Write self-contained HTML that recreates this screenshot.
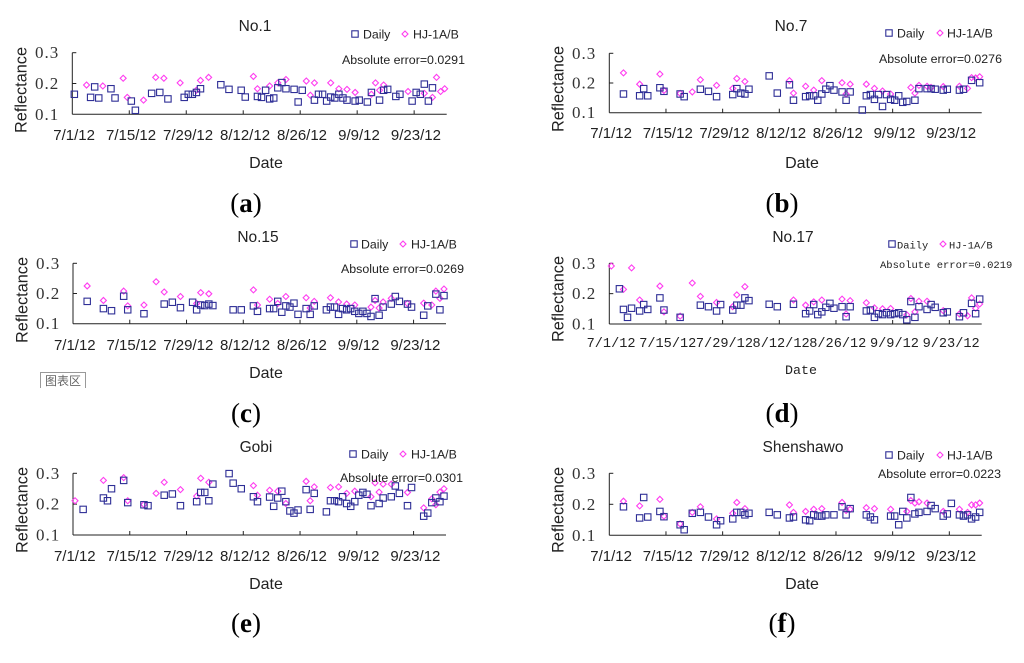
<!DOCTYPE html>
<html lang="en">
<head>
<meta charset="utf-8">
<title>Reflectance comparison charts</title>
<style>
html,body{margin:0;padding:0;background:#fff;}
#figure{display:block;width:1024px;height:663px;background:#fff;filter:blur(0.35px);}
text{font-family:"Liberation Sans",sans-serif;fill:#222;}
.num{font-family:"Liberation Serif",serif;font-size:17px;letter-spacing:1px;fill:#333;}
.mono{font-family:"Liberation Mono",monospace;}
.cap{font-family:"Liberation Serif",serif;font-size:27px;fill:#000;}
</style>
</head>
<body>
<svg id="figure" xmlns="http://www.w3.org/2000/svg" width="1024" height="663" viewBox="0 0 1024 663">
  <g>
    <path d="M40.5 388V372.5H85.5V388" fill="#fff" stroke="#999" stroke-width="1"/>
    <text x="63" y="385" text-anchor="middle" font-size="12" style="font-family:'Liberation Sans','Noto Sans CJK SC',sans-serif;fill:#666">图表区</text>
  </g>
</svg>
<script>
const xTickDays = [0, 14, 28, 42, 56, 70, 84];
const xTickLabels = ["7/1/12", "7/15/12", "7/29/12", "8/12/12", "8/26/12", "9/9/12", "9/23/12"];
const yTickValues = [0.1, 0.2, 0.3];
const yTickLabels = ["0.1", "0.2", "0.3"];
const totalDays = 92;
const yMin = 0.1;
const yMax = 0.3;

const no1DailyDays = [0,4,5,6,9,10,14,15,19,21,23,27,28,29,30,31,36,38,41,42,45,46,47,48,49,50,51,52,54,55,56,59,60,61,62,63,64,65,66,67,69,70,72,73,75,76,77,79,80,83,84,85,86,87,88];
const no1DailyValues = [.165,.155,.189,.153,.183,.153,.143,.113,.168,.171,.150,.155,.165,.165,.171,.183,.196,.181,.178,.156,.158,.155,.178,.150,.153,.186,.203,.183,.181,.140,.178,.146,.165,.165,.143,.156,.153,.165,.153,.146,.143,.146,.140,.171,.146,.178,.181,.158,.165,.143,.171,.165,.198,.143,.186];
const no1SatDays = [3,7,12,13,17,20,22,26,30,31,33,44,45,48,50,52,57,58,59,63,65,67,69,73,74,75,76,82,86,88,89,90,91];
const no1SatValues = [.195,.192,.217,.155,.146,.220,.217,.202,.178,.210,.220,.223,.183,.192,.202,.213,.208,.162,.202,.202,.183,.181,.171,.165,.202,.178,.195,.174,.168,.155,.220,.174,.183];

const no7DailyDays = [3,7,8,9,12,13,17,18,22,24,26,30,31,32,33,34,39,41,44,45,48,49,50,51,52,53,54,55,57,58,59,62,63,64,65,66,67,68,69,70,71,72,73,75,76,78,79,80,82,83,86,87,89,91];
const no7DailyValues = [.163,.157,.181,.157,.184,.172,.163,.154,.179,.172,.154,.161,.181,.166,.163,.179,.224,.166,.194,.142,.154,.157,.157,.142,.163,.179,.191,.176,.170,.142,.170,.109,.157,.161,.145,.161,.121,.161,.145,.142,.157,.135,.138,.142,.181,.181,.181,.179,.176,.179,.176,.179,.209,.201];
const no7SatDays = [3,7,12,13,17,20,22,26,30,31,33,44,45,48,50,52,57,58,59,63,65,67,69,74,75,76,78,79,82,86,88,89,90,91];
const no7SatValues = [.234,.196,.230,.175,.165,.170,.211,.192,.182,.215,.205,.208,.166,.189,.176,.208,.201,.163,.196,.196,.182,.173,.163,.185,.166,.192,.189,.185,.188,.189,.182,.218,.217,.221];

const no15DailyDays = [3,7,9,12,13,17,22,24,26,29,30,31,32,33,34,39,41,44,45,48,49,50,51,52,53,54,55,57,58,59,62,63,64,65,66,67,68,69,70,71,72,73,74,75,76,78,79,80,82,83,86,87,89,90,91];
const no15DailyValues = [.174,.150,.143,.191,.146,.133,.165,.171,.153,.171,.146,.162,.160,.165,.160,.146,.146,.159,.141,.150,.150,.174,.138,.159,.155,.168,.131,.150,.131,.159,.146,.155,.155,.131,.150,.146,.150,.141,.134,.141,.134,.124,.183,.128,.155,.165,.190,.174,.165,.155,.128,.159,.198,.146,.193];
const no15SatDays = [3,7,12,13,17,20,22,26,30,31,33,44,45,48,50,52,57,58,59,63,65,67,69,73,74,75,76,78,82,86,88,89,90,91];
const no15SatValues = [.225,.177,.208,.159,.162,.239,.205,.190,.167,.203,.199,.212,.162,.181,.167,.190,.186,.152,.174,.186,.172,.165,.162,.155,.177,.152,.172,.184,.167,.168,.162,.208,.184,.215];

const no17DailyDays = [2,3,4,5,7,8,9,12,13,17,22,24,26,27,30,31,32,33,34,39,41,45,48,49,50,51,52,53,54,55,57,58,59,63,64,65,66,67,68,69,70,71,72,73,74,75,76,78,79,80,82,83,86,87,89,90,91];
const no17DailyValues = [.216,.148,.122,.152,.143,.164,.148,.186,.146,.122,.162,.157,.143,.164,.146,.162,.162,.186,.177,.165,.157,.165,.134,.143,.164,.131,.140,.155,.168,.152,.157,.124,.157,.143,.146,.122,.134,.131,.137,.131,.134,.137,.131,.114,.174,.122,.157,.148,.164,.155,.137,.140,.124,.137,.168,.134,.182];
const no17SatDays = [0,3,5,7,12,13,17,20,22,26,30,31,33,45,48,50,52,57,58,59,63,65,67,69,73,74,75,76,78,82,86,88,89,90,91];
const no17SatValues = [.291,.214,.285,.179,.225,.140,.126,.235,.191,.171,.157,.196,.223,.179,.162,.173,.179,.182,.133,.177,.170,.153,.150,.151,.130,.184,.140,.175,.175,.144,.133,.127,.186,.152,.166];

const gobiDailyDays = [2,7,8,9,12,13,17,18,22,24,26,30,31,32,33,34,38,39,41,44,45,48,49,50,51,52,53,54,55,57,58,59,62,63,64,65,66,67,68,69,70,71,72,73,75,76,78,79,80,82,83,86,87,88,89,90,91];
const gobiDailyValues = [.183,.220,.211,.250,.277,.205,.198,.195,.229,.233,.195,.208,.238,.238,.211,.265,.299,.268,.250,.224,.208,.223,.193,.220,.242,.208,.178,.171,.181,.247,.183,.235,.175,.211,.211,.208,.224,.202,.193,.208,.229,.238,.232,.195,.202,.220,.224,.259,.235,.195,.254,.161,.171,.205,.220,.208,.226];
const gobiSatDays = [0,7,12,13,17,20,22,26,30,31,33,44,45,48,50,52,57,58,59,63,65,67,69,73,74,75,76,78,82,86,88,89,90,91];
const gobiSatValues = [.211,.277,.286,.211,.199,.235,.271,.247,.226,.284,.271,.260,.229,.245,.242,.202,.274,.211,.256,.254,.256,.235,.242,.224,.269,.239,.265,.265,.238,.188,.217,.198,.239,.250];

const shenDailyDays = [3,7,8,9,12,13,17,18,20,22,24,26,27,30,31,32,33,34,39,41,44,45,48,49,50,51,52,53,55,57,58,59,63,64,65,69,70,71,72,73,74,75,76,78,79,80,82,83,84,86,87,88,89,90,91];
const shenDailyValues = [.192,.156,.222,.159,.177,.160,.134,.118,.171,.174,.159,.134,.147,.153,.174,.174,.166,.171,.174,.166,.156,.159,.150,.147,.166,.162,.162,.166,.166,.192,.166,.186,.166,.159,.150,.162,.162,.134,.177,.156,.222,.169,.174,.177,.196,.186,.162,.169,.203,.166,.162,.166,.153,.159,.174];
const shenSatDays = [3,7,12,13,17,20,22,26,30,31,33,44,45,48,50,52,57,58,59,63,65,69,73,74,75,76,78,82,86,88,89,90,91];
const shenSatValues = [.210,.195,.216,.162,.137,.174,.192,.153,.171,.206,.186,.198,.174,.177,.184,.186,.206,.180,.184,.189,.186,.184,.177,.212,.204,.208,.204,.177,.184,.174,.198,.198,.204];

const panels = [
  {key:"no-1",title:"No.1",err:"Absolute error=0.0291",letter:"a",daily:[no1DailyDays,no1DailyValues],sat:[no1SatDays,no1SatValues],
   box:[72.3,446.7,52.7,114.3],titleAt:[255,31],legend:[355,34,363,405,413],errAt:[342,64],tickBase:140,dateAt:[266,168],reflAt:[21,90],numX:35,capAt:[246,212]},
  {key:"no-7",title:"No.7",err:"Absolute error=0.0276",letter:"b",daily:[no7DailyDays,no7DailyValues],sat:[no7SatDays,no7SatValues],
   box:[609.3,981.7,53.3,112.7],titleAt:[791,31],legend:[889,33,897,940,947],errAt:[879,63],tickBase:138,dateAt:[802,168],reflAt:[558,89],numX:572,capAt:[782,212]},
  {key:"no-15",title:"No.15",err:"Absolute error=0.0269",letter:"c",daily:[no15DailyDays,no15DailyValues],sat:[no15SatDays,no15SatValues],
   box:[73,446,263.3,323.7],titleAt:[258,242],legend:[354,244,361,403,411],errAt:[341,273],tickBase:350,dateAt:[266,378],reflAt:[22,300],numX:36,capAt:[246,422]},
  {key:"no-17",title:"No.17",err:"Absolute error=0.0219",letter:"d",daily:[no17DailyDays,no17DailyValues],sat:[no17SatDays,no17SatValues],
   box:[609.3,981.7,263.3,324],titleAt:[793,242],legend:[892,244,897,943,949],errAt:[880,268],tickBase:347,dateAt:[801,374],reflAt:[558,299],numX:572,capAt:[782,422],mono:true},
  {key:"gobi",title:"Gobi",err:"Absolute error=0.0301",letter:"e",daily:[gobiDailyDays,gobiDailyValues],sat:[gobiSatDays,gobiSatValues],
   box:[73,446,473.3,535],titleAt:[256,452],legend:[353,454,361,403,411],errAt:[340,482],tickBase:561,dateAt:[266,589],reflAt:[22,510],numX:36,capAt:[246,632]},
  {key:"shenshawo",title:"Shenshawo",err:"Absolute error=0.0223",letter:"f",daily:[shenDailyDays,shenDailyValues],sat:[shenSatDays,shenSatValues],
   box:[609.3,981.7,473.3,535.3],titleAt:[803,452],legend:[889,455,897,940,947],errAt:[878,478],tickBase:561,dateAt:[802,589],reflAt:[558,510],numX:572,capAt:[782,632]}
];

const NS = "http://www.w3.org/2000/svg";
const svg = document.getElementById("figure");
const DAILY_COLOR = "#2e2e96";
const SAT_COLOR = "#ff3cf0";

function make(tag, attrs, parent) {
  const el = document.createElementNS(NS, tag);
  for (const k in attrs) el.setAttribute(k, attrs[k]);
  parent.appendChild(el);
  return el;
}
function label(parent, str, x, y, size, anchor, cls) {
  const el = make("text", {x: x, y: y, "font-size": size, "text-anchor": anchor || "start"}, parent);
  if (cls) el.setAttribute("class", cls);
  el.textContent = str;
  return el;
}
function squareMark(parent, cx, cy) {
  return make("rect", {x: cx - 3.2, y: cy - 3.2, width: 6.4, height: 6.4, fill: "none", stroke: DAILY_COLOR, "stroke-width": 1.1}, parent);
}
function diamondMark(parent, cx, cy) {
  const r = 3;
  return make("polygon", {points: [cx, cy - r, cx + r, cy, cx, cy + r, cx - r, cy].join(","), fill: "none", stroke: SAT_COLOR, "stroke-width": 1.1}, parent);
}

panels.forEach(function (p) {
  const x0 = p.box[0], x1 = p.box[1], yTop = p.box[2], yBot = p.box[3];
  const edgeX = function (d) { return x0 + d * (x1 - x0) / totalDays; };
  const centerX = function (d) { return edgeX(d + 0.5); };
  const valY = function (v) { return yBot - (v - yMin) / (yMax - yMin) * (yBot - yTop); };

  const g = make("g", {}, svg);
  
  

  const title = label(g, p.title, p.titleAt[0], p.titleAt[1], 15.5, "middle");
  
  

  const yAxis = make("line", {x1: x0, x2: x0, y1: yTop, y2: yBot, stroke: "#222", "stroke-width": 1}, g);
  
  
  const xAxis = make("line", {x1: x0, x2: x1, y1: yBot, y2: yBot, stroke: "#222", "stroke-width": 1}, g);
  
  

  yTickValues.forEach(function (v, i) {
    const y = valY(v);
    if (i > 0) {
      const tick = make("line", {x1: x0, x2: x0 + 4, y1: y, y2: y, stroke: "#222", "stroke-width": 1}, g);
      
      
    }
    const t = label(g, yTickLabels[i], p.numX, y + 5.5, 17, "start", "num");
    
    
  });

  xTickDays.forEach(function (d, i) {
    const x = edgeX(d);
    if (i > 0) {
      const tick = make("line", {x1: x, x2: x, y1: yBot - 4, y2: yBot, stroke: "#222", "stroke-width": 1}, g);
      
      
    }
    const t = label(g, xTickLabels[i], x + 1.8, p.tickBase, p.mono ? 13.6 : 15, "middle", p.mono ? "mono" : "");
    
    
  });

  p.sat[0].forEach(function (d, i) {
    const m = diamondMark(g, centerX(d), valY(p.sat[1][i]));
    
    
  });
  p.daily[0].forEach(function (d, i) {
    const m = squareMark(g, centerX(d), valY(p.daily[1][i]));
    
    
  });

  const yTitle = label(g, "Reflectance", 0, 0, 16.3, "middle");
  yTitle.setAttribute("transform", "translate(" + (p.reflAt[0] + 5.5) + " " + p.reflAt[1] + ") rotate(-90)");
  
  

  const xTitle = label(g, "Date", p.dateAt[0], p.dateAt[1], p.mono ? 13.3 : 16, "middle", p.mono ? "mono" : "");
  
  

  const leg = make("g", {}, g);
  
  
  squareMark(leg, p.legend[0], p.legend[1]);
  diamondMark(leg, p.legend[3], p.legend[1]);
  const legFont = p.mono ? 10.4 : 12.3;
  const legClass = p.mono ? "mono" : "";
  const l1 = label(leg, "Daily", p.legend[2], p.legend[1] + 4.5, legFont, "start", legClass);
  
  
  const l2 = label(leg, "HJ-1A/B", p.legend[4], p.legend[1] + 4.5, legFont, "start", legClass);
  
  

  const err = label(g, p.err, p.errAt[0], p.errAt[1], p.mono ? 10.5 : 12.4, "start", legClass);
  
  

  const cap = make("text", {x: p.capAt[0], y: p.capAt[1], "text-anchor": "middle", class: "cap"}, g);
  
  
  cap.appendChild(document.createTextNode("("));
  const bold = make("tspan", {"font-weight": "bold"}, cap);
  bold.textContent = p.letter;
  cap.appendChild(document.createTextNode(")"));
});
</script>
</body>
</html>
